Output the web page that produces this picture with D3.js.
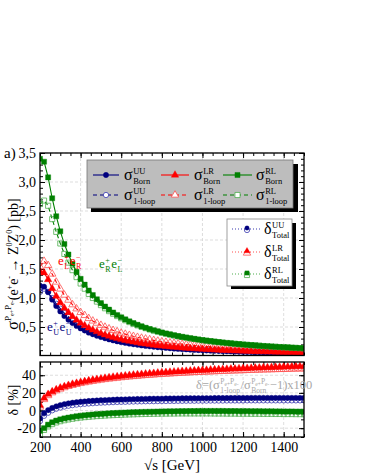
<!DOCTYPE html>
<html><head><meta charset="utf-8">
<script src="https://cdn.jsdelivr.net/npm/d3@7"></script>
<style>body{margin:0;background:#fff}svg{display:block}svg text{font-family:"Liberation Serif","Times New Roman",Times,"DejaVu Serif",serif !important}</style>
</head><body><svg id="c" width="366" height="473" font-family="Liberation Serif"></svg>
<script>
const energies = [200,220,240,260,280,300,320,340,360,380,400,420,440,460,480,500,520,540,560,580,600,620,640,660,680,700,720,740,760,780,800,820,840,860,880,900,920,940,960,980,1000,1020,1040,1060,1080,1100,1120,1140,1160,1180,1200,1220,1240,1260,1280,1300,1320,1340,1360,1380,1400,1420,1440,1460,1480,1500];
const bornUU = [1.214,1.196,1.100,0.971,0.860,0.768,0.689,0.625,0.568,0.518,0.475,0.439,0.403,0.375,0.349,0.326,0.305,0.285,0.268,0.252,0.238,0.225,0.213,0.202,0.192,0.182,0.174,0.166,0.158,0.151,0.145,0.139,0.133,0.127,0.122,0.118,0.114,0.109,0.105,0.101,0.098,0.095,0.091,0.089,0.086,0.083,0.080,0.078,0.075,0.073,0.071,0.069,0.067,0.065,0.064,0.062,0.060,0.059,0.057,0.055,0.054,0.053,0.051,0.050,0.049,0.048];
const bornLR = [1.455,1.434,1.318,1.164,1.031,0.920,0.826,0.749,0.681,0.621,0.569,0.526,0.484,0.449,0.419,0.390,0.365,0.342,0.321,0.303,0.285,0.270,0.256,0.242,0.230,0.219,0.208,0.199,0.190,0.181,0.173,0.166,0.159,0.153,0.147,0.141,0.136,0.131,0.126,0.122,0.117,0.113,0.110,0.106,0.103,0.099,0.096,0.093,0.090,0.088,0.085,0.083,0.080,0.078,0.076,0.074,0.072,0.070,0.068,0.066,0.065,0.063,0.062,0.060,0.059,0.057];
const bornRL = [3.40,3.35,3.08,2.72,2.41,2.15,1.93,1.75,1.59,1.45,1.33,1.23,1.13,1.05,0.978,0.912,0.853,0.799,0.751,0.707,0.667,0.631,0.597,0.566,0.538,0.511,0.487,0.464,0.443,0.424,0.405,0.388,0.372,0.357,0.343,0.330,0.318,0.306,0.295,0.284,0.274,0.265,0.256,0.248,0.240,0.232,0.225,0.218,0.211,0.205,0.199,0.193,0.188,0.183,0.178,0.173,0.168,0.164,0.160,0.155,0.152,0.148,0.144,0.141,0.137,0.134];
const loopUU = [1.105,1.160,1.106,1.000,0.901,0.816,0.739,0.676,0.619,0.567,0.523,0.485,0.447,0.417,0.389,0.364,0.341,0.319,0.301,0.284,0.268,0.254,0.240,0.228,0.217,0.206,0.197,0.188,0.179,0.171,0.165,0.158,0.151,0.145,0.139,0.134,0.130,0.124,0.120,0.115,0.112,0.108,0.104,0.102,0.098,0.095,0.091,0.089,0.086,0.083,0.081,0.079,0.077,0.074,0.073,0.071,0.069,0.067,0.065,0.063,0.062,0.061,0.058,0.057,0.056,0.055];
const loopLR = [1.542,1.635,1.562,1.414,1.276,1.156,1.051,0.964,0.885,0.814,0.752,0.700,0.648,0.605,0.567,0.531,0.499,0.470,0.443,0.420,0.396,0.377,0.358,0.340,0.324,0.309,0.295,0.283,0.270,0.258,0.247,0.238,0.228,0.220,0.212,0.204,0.197,0.190,0.183,0.178,0.170,0.165,0.161,0.155,0.151,0.145,0.141,0.137,0.133,0.130,0.126,0.123,0.118,0.116,0.113,0.110,0.107,0.104,0.101,0.099,0.097,0.094,0.093,0.090,0.089,0.086];
const loopRL = [2.62,2.68,2.59,2.36,2.14,1.94,1.76,1.61,1.48,1.36,1.25,1.16,1.07,1.00,0.938,0.877,0.823,0.773,0.729,0.688,0.650,0.616,0.584,0.555,0.528,0.503,0.480,0.458,0.437,0.419,0.401,0.384,0.369,0.354,0.340,0.328,0.316,0.304,0.293,0.283,0.273,0.264,0.255,0.247,0.239,0.231,0.224,0.217,0.210,0.204,0.198,0.192,0.187,0.182,0.177,0.171,0.166,0.163,0.158,0.153,0.150,0.146,0.142,0.139,0.135,0.132];
const deltaUU = [-9,-3,0.5,3,4.8,6.2,7.3,8.2,8.9,9.5,10.0,10.4,10.8,11.1,11.4,11.7,11.9,12.1,12.3,12.5,12.6,12.7,12.9,13.0,13.1,13.2,13.3,13.4,13.5,13.5,13.6,13.7,13.7,13.8,13.8,13.9,13.9,14.0,14.0,14.0,14.1,14.1,14.1,14.2,14.2,14.2,14.2,14.3,14.3,14.3,14.3,14.3,14.4,14.4,14.4,14.4,14.4,14.4,14.4,14.4,14.4,14.4,14.4,14.4,14.4,14.4];
const deltaUUopen = [-12,-6,-2.5,0.2,2.0,3.4,4.5,5.4,6.1,6.7,7.2,7.6,8.0,8.3,8.6,8.9,9.1,9.3,9.5,9.7,9.8,9.9,10.1,10.2,10.3,10.4,10.5,10.6,10.6,10.7,10.8,10.8,10.9,10.9,11.0,11.0,11.1,11.1,11.1,11.2,11.2,11.2,11.3,11.3,11.3,11.3,11.4,11.4,11.4,11.4,11.4,11.5,11.5,11.5,11.5,11.5,11.5,11.5,11.5,11.5,11.5,11.5,11.5,11.5,11.5,11.5];
const deltaLR = [6,14,18.5,21.5,23.8,25.7,27.3,28.7,30.0,31.1,32.1,33.0,33.9,34.7,35.4,36.1,36.8,37.4,38.0,38.5,39.0,39.5,40.0,40.4,40.8,41.2,41.6,42.0,42.3,42.7,43.0,43.3,43.6,43.9,44.2,44.5,44.7,45.0,45.2,45.5,45.7,45.9,46.2,46.4,46.6,46.8,47.0,47.2,47.4,47.6,47.8,48.0,48.1,48.3,48.5,48.7,48.8,49.0,49.2,49.3,49.5,49.6,49.8,50.0,50.1,50.3];
const deltaLRopen = [4,12.5,17,20.2,22.5,24.4,26.0,27.4,28.6,29.7,30.7,31.6,32.4,33.2,33.9,34.6,35.2,35.8,36.3,36.8,37.3,37.8,38.2,38.6,39.0,39.4,39.8,40.1,40.4,40.8,41.1,41.3,41.6,41.9,42.2,42.4,42.6,42.9,43.1,43.3,43.5,43.7,43.9,44.1,44.3,44.5,44.6,44.8,45.0,45.1,45.3,45.5,45.6,45.8,45.9,46.1,46.2,46.3,46.5,46.6,46.7,46.8,47.0,47.1,47.2,47.3];
const deltaRL = [-23,-20,-16,-13.3,-11.4,-10.0,-8.9,-8.0,-7.2,-6.5,-5.9,-5.4,-4.9,-4.5,-4.1,-3.8,-3.5,-3.2,-2.9,-2.7,-2.5,-2.3,-2.1,-1.9,-1.8,-1.6,-1.5,-1.4,-1.3,-1.2,-1.1,-1.0,-0.9,-0.9,-0.8,-0.7,-0.7,-0.6,-0.6,-0.5,-0.5,-0.5,-0.5,-0.5,-0.5,-0.5,-0.6,-0.6,-0.6,-0.7,-0.7,-0.7,-0.8,-0.8,-0.8,-0.9,-0.9,-0.9,-1.0,-1.0,-1.1,-1.1,-1.1,-1.2,-1.2,-1.3];
const deltaRLopen = [-27,-22,-18,-15.4,-13.5,-12.1,-11.0,-10.1,-9.3,-8.6,-8.0,-7.5,-7.1,-6.7,-6.3,-6.0,-5.7,-5.4,-5.2,-5.0,-4.8,-4.6,-4.4,-4.3,-4.1,-4.0,-3.9,-3.8,-3.7,-3.6,-3.5,-3.5,-3.4,-3.4,-3.3,-3.3,-3.3,-3.3,-3.3,-3.3,-3.3,-3.3,-3.3,-3.4,-3.4,-3.4,-3.5,-3.5,-3.5,-3.6,-3.6,-3.6,-3.7,-3.7,-3.7,-3.8,-3.8,-3.8,-3.9,-3.9,-4.0,-4.0,-4.0,-4.1,-4.1,-4.2];
const xMajor = [200,400,600,800,1000,1200,1400];
const xTickLabels = ["200","400","600","800","1000","1200","1400"];
const yTopTicks = [0.5,1.0,1.5,2.0,2.5,3.0,3.5];
const yTopLabels = ["0,5","1,0","1,5","2,0","2,5","3,0","3,5"];
const yBotTicks = [-20,0,20,40];
const yBotLabels = ["-20","0","20","40"];

const FONT = "Liberation Serif";
const C = {UU:"#00007f", LR:"#ff0000", RL:"#008000", UUo:"#3b3bb0", LRo:"#ff5050", RLo:"#4fae4f"};
const svg = d3.select("#c");
const L = 40, R = 304, T1 = 153, B1 = 355.5, T2 = 362, B2 = 437;
const x = d3.scaleLinear().domain([200,1500]).range([L,R]);
const y1 = d3.scaleLinear().domain([0,3.5]).range([356,153]);
const y2 = d3.scaleLinear().domain([-30,55]).range([B2,T2]);

const fixAx = (a)=>a.attr("font-family",FONT).call(s=>s.select(".domain").remove()).call(s=>s.selectAll("line").attr("stroke","#000").attr("stroke-width",1));
function panel(ys, top, bot, yt, showX){
  const g = svg.append("g");
  g.selectAll(".gx").data(xMajor.slice(1)).join("line").attr("x1",d=>x(d)).attr("x2",d=>x(d)).attr("y1",top).attr("y2",bot).attr("stroke","#d4d4d4").attr("stroke-dasharray","3,2").attr("stroke-width",0.8);
  g.selectAll(".gy").data(yt).join("line").attr("x1",L).attr("x2",R).attr("y1",d=>ys(d)).attr("y2",d=>ys(d)).attr("stroke","#d4d4d4").attr("stroke-dasharray","3,2").attr("stroke-width",0.8);
  const xm = d3.range(200,1501,50);
  g.append("g").attr("transform",`translate(0,${bot})`).call(d3.axisBottom(x).tickValues(xm).tickSize(-3).tickFormat("")).call(fixAx);
  g.append("g").attr("transform",`translate(0,${bot})`).call(d3.axisBottom(x).tickValues(xMajor).tickSize(-5).tickPadding(5).tickFormat((d,i)=>showX?xTickLabels[i]:"")).call(fixAx)
    .selectAll("text").attr("font-size",14).attr("fill","#000");
  g.append("g").attr("transform",`translate(0,${top})`).call(d3.axisTop(x).tickValues(xm).tickSize(-3).tickFormat("")).call(fixAx);
  g.append("g").attr("transform",`translate(0,${top})`).call(d3.axisTop(x).tickValues(xMajor).tickSize(-5).tickFormat("")).call(fixAx);
  return g;
}
function yAxes(g, ys, ticks, labels, minor){
  g.append("g").attr("transform",`translate(${L},0)`).call(d3.axisLeft(ys).tickValues(minor).tickSize(-3).tickFormat("")).call(fixAx);
  g.append("g").attr("transform",`translate(${L},0)`).call(d3.axisLeft(ys).tickValues(ticks).tickSize(-5).tickPadding(4).tickFormat((d,i)=>labels[i])).call(fixAx)
    .selectAll("text").attr("font-size",14).attr("fill","#000");
  g.append("g").attr("transform",`translate(${R},0)`).call(d3.axisRight(ys).tickValues(minor).tickSize(-3).tickFormat("")).call(fixAx);
  g.append("g").attr("transform",`translate(${R},0)`).call(d3.axisRight(ys).tickValues(ticks).tickSize(-5).tickFormat("")).call(fixAx);
}
const gTop = panel(y1, T1, B1, yTopTicks, false);
yAxes(gTop, y1, yTopTicks, yTopLabels, d3.range(0.1,3.5,0.1));
const gBot = panel(y2, T2, B2, yBotTicks, true);
yAxes(gBot, y2, yBotTicks, yBotLabels, d3.range(-30,55,10));

const defs = svg.append("defs");
defs.append("clipPath").attr("id","cp1").append("rect").attr("x",L).attr("y",T1).attr("width",R-L).attr("height",B1-T1);
defs.append("clipPath").attr("id","cp2").append("rect").attr("x",L).attr("y",T2).attr("width",R-L).attr("height",B2-T2);

const sym = {UU:d3.symbolCircle, LR:d3.symbolTriangle, RL:d3.symbolSquare};
const sz = {UU:22, LR:24, RL:26};
function series(g, ys, vals, key, col, filled, dash, lineCol){
  const pts = energies.map((e,i)=>[x(e), ys(vals[i])]);
  g.append("path").attr("d", d3.line()(pts)).attr("fill","none").attr("stroke",lineCol||col).attr("stroke-width",1.1).attr("stroke-dasharray",dash||null);
  g.selectAll(null).data(pts).join("path").attr("transform",d=>`translate(${d[0]},${d[1]})`)
    .attr("d", d3.symbol().type(sym[key]).size(sz[key]))
    .attr("fill", filled?col:"#fff").attr("fill-opacity", filled?1:0).attr("stroke", col).attr("stroke-width", filled?0.4:0.8);
}
const p1 = svg.append("g").attr("clip-path","url(#cp1)");
series(p1, y1, loopUU, "UU", C.UUo, false, "4,3", C.UU);
series(p1, y1, bornUU, "UU", C.UU, true);
series(p1, y1, loopLR, "LR", C.LRo, false, "4,3", C.LR);
series(p1, y1, bornLR, "LR", C.LR, true);
series(p1, y1, loopRL, "RL", C.RLo, false, "4,3", C.RL);
series(p1, y1, bornRL, "RL", C.RL, true);

const p2 = svg.append("g").attr("clip-path","url(#cp2)");
series(p2, y2, deltaLRopen, "LR", C.LRo, false, "1,2");
series(p2, y2, deltaLR, "LR", C.LR, true, "1,2");
series(p2, y2, deltaUUopen, "UU", C.UUo, false, "1,2");
series(p2, y2, deltaUU, "UU", C.UU, true, "1,2");
series(p2, y2, deltaRLopen, "RL", C.RLo, false, "1,2");
series(p2, y2, deltaRL, "RL", C.RL, true, "1,2");

svg.append("rect").attr("x",L).attr("y",T1).attr("width",R-L).attr("height",B1-T1).attr("fill","none").attr("stroke","#000").attr("stroke-width",1.3);
svg.append("rect").attr("x",L).attr("y",T2).attr("width",R-L).attr("height",B2-T2).attr("fill","none").attr("stroke","#000").attr("stroke-width",1.3);

function rich(g, x0, y0, parts, fs, color, anchor){
  const t = g.append("text").attr("x",x0).attr("y",y0).attr("font-size",fs).attr("fill",color).attr("text-anchor",anchor||"start").attr("font-family",FONT);
  let cur = 0;
  parts.forEach(p=>{
    const [txt, sh, s] = p;
    t.append("tspan").attr("dy", (sh||0)-cur).attr("font-size", s||fs).text(txt);
    cur = sh||0;
  });
  return t;
}
function stack(g, x0, y0, base, sup, sub, fs, ss, color){
  const t = g.append("text").attr("x",x0).attr("y",y0).attr("font-size",fs).attr("fill",color).attr("font-family",FONT).text(base);
  const w = t.node().getComputedTextLength();
  const xs = x0 + w + 0.5;
  const a = rich(g, xs, y0 - fs*0.4, sup, ss, color);
  const b = rich(g, xs, y0 + fs*0.28, sub, ss, color);
  return xs + Math.max(a.node().getComputedTextLength(), b.node().getComputedTextLength());
}

// Legend 1
const lg = svg.append("g");
lg.append("rect").attr("x",91).attr("y",164).attr("width",207).attr("height",48).attr("fill","#000");
lg.append("rect").attr("x",87).attr("y",160).attr("width",206).attr("height",48).attr("fill","#bdbdbd").attr("stroke","#777").attr("stroke-width",0.8);
const leg1 = [
  {k:"UU", x0:93, x1:119, tx:124, sup:"UU"},
  {k:"LR", x0:161, x1:189, tx:194, sup:"LR"},
  {k:"RL", x0:223, x1:252, tx:256, sup:"RL"}
];
leg1.forEach(e=>{
  const col = C[e.k], colo = C[e.k+"o"];
  [[175, true, null, "Born"], [195, false, "4,3", "1-loop"]].forEach(([yy, f, dash, sub])=>{
    lg.append("line").attr("x1",e.x0).attr("x2",e.x1).attr("y1",yy).attr("y2",yy).attr("stroke",col).attr("stroke-width",1.1).attr("stroke-dasharray",dash);
    lg.append("path").attr("transform",`translate(${(e.x0+e.x1)/2},${yy})`).attr("d",d3.symbol().type(sym[e.k]).size(sz[e.k]))
      .attr("fill", f?col:"#fff").attr("stroke", f?col:colo).attr("stroke-width", f?0.4:0.8);
    stack(lg, e.tx, yy+5, "σ", [[e.sup]], [[sub]], 16, 8.5, "#000");
  });
});

// Legend 2
lg.append("rect").attr("x",231).attr("y",223).attr("width",65).attr("height",66).attr("fill","#000");
lg.append("rect").attr("x",227).attr("y",219).attr("width",65).attr("height",67).attr("fill","#fff").attr("stroke","#888").attr("stroke-width",0.8);
[["UU",229],["LR",252],["RL",274]].forEach(([k,yy])=>{
  lg.append("line").attr("x1",232).attr("x2",262).attr("y1",yy).attr("y2",yy).attr("stroke",C[k+"o"]).attr("stroke-width",1.1).attr("stroke-dasharray","1,2");
  lg.append("path").attr("transform",`translate(247,${yy+1})`).attr("d",d3.symbol().type(sym[k]).size(sz[k])).attr("fill","#fff").attr("stroke",C[k+"o"]).attr("stroke-width",0.8);
  lg.append("path").attr("transform",`translate(247,${yy-1})`).attr("d",d3.symbol().type(sym[k]).size(sz[k]*0.7)).attr("fill",C[k]).attr("stroke",C[k]).attr("stroke-width",0.3);
  stack(lg, 264, yy+5, "δ", [[k]], [["Total"]], 16, 8.5, "#000");
});

// Inline labels
const tl = svg.append("g");
function eLabel(x0, y0, a, b, col){
  let xx = stack(tl, x0, y0, "e", [["+"]], [[a]], 13, 8, col);
  stack(tl, xx+0.5, y0, "e", [["−"]], [[b]], 13, 8, col);
}
eLabel(58, 265, "L", "R", C.LR);
eLabel(99, 268, "R", "L", C.RL);
eLabel(47, 331, "U", "U", C.UU);

// formula in bottom panel
{
  const fs = 12.5, ss = 7.5, col = "#a8a8a8", x0 = 196, yb = 389;
  let t = tl.append("text").attr("x",x0).attr("y",yb).attr("font-size",fs).attr("fill",col).attr("font-family",FONT).text("δ=(σ");
  let xx = x0 + t.node().getComputedTextLength() + 0.5;
  const supP = [["P"],["e+",2,5.5],["P",0,ss],["e-",2,5.5]];
  let a = rich(tl, xx, yb-5.5, supP, ss, col);
  let b = rich(tl, xx, yb+3.5, [["1-loop"]], ss, col);
  xx += Math.max(a.node().getComputedTextLength(), b.node().getComputedTextLength()) + 0.5;
  t = tl.append("text").attr("x",xx).attr("y",yb).attr("font-size",fs).attr("fill",col).attr("font-family",FONT).text("/σ");
  xx += t.node().getComputedTextLength() + 0.5;
  a = rich(tl, xx, yb-5.5, supP, ss, col);
  b = rich(tl, xx, yb+3.5, [["Born"]], ss, col);
  xx += Math.max(a.node().getComputedTextLength(), b.node().getComputedTextLength()) + 0.5;
  tl.append("text").attr("x",xx).attr("y",yb).attr("font-size",fs).attr("fill",col).attr("font-family",FONT).text("−1)x100");
}

// axis titles
svg.append("text").attr("x",4).attr("y",158).attr("font-size",15).attr("font-family",FONT).text("a)");
const yl = svg.append("g").attr("transform","translate(18,264) rotate(-90)");
rich(yl, 0, 0, [["σ",0,16],["P",-7,9],["e+",-4,6],["P",-7,9],["e-",-4,6],["(e",0,14],["+",-6,8],["e",0,14],["-",-6,8],[" → Z",0,14],["0",-6,8],["Z",0,14],["0",-6,8],[") [pb]",0,14]], 14, "#000", "middle");
const yl2 = svg.append("g").attr("transform","translate(18,400) rotate(-90)");
rich(yl2, 0, 0, [["δ [%]"]], 14, "#000", "middle");
svg.append("text").attr("x",172).attr("y",470).attr("text-anchor","middle").attr("font-size",15).attr("font-family",FONT).text("√s [GeV]");
</script></body></html>
